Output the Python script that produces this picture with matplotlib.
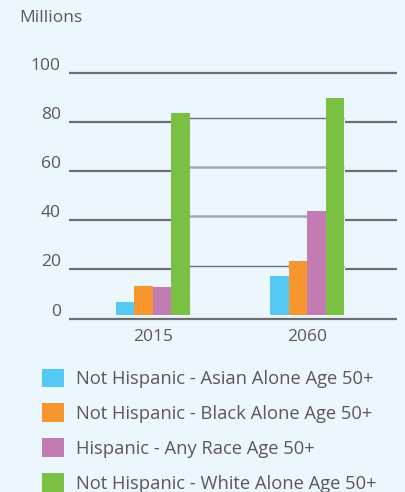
import matplotlib.pyplot as plt
from matplotlib.patches import Rectangle
import matplotlib.transforms as mtransforms
import numpy as np

# ---------------- data ----------------
years = ["2015", "2060"]
series = [
    "Not Hispanic - Asian Alone Age 50+",
    "Not Hispanic - Black Alone Age 50+",
    "Hispanic - Any Race Age 50+",
    "Not Hispanic - White Alone Age 50+",
]
asian = [5.2, 15.7]
black = [11.7, 21.8]
hispanic = [11.3, 42.2]
white = [82.0, 88.1]
yticks = [0, 20, 40, 60, 80, 100]

colors = ["#55c9f3", "#f7962f", "#c27bb3", "#7ac143"]
bg = "#ebf6fd"
grid_dark = "#6d6e71"
grid_light = "#a3a7ad"
txt = "#5e5757"

plt.rcParams["font.family"] = ["Open Sans", "DejaVu Sans"]

fig = plt.figure(figsize=(4.05, 4.92), dpi=100, facecolor=bg)
# axes placed so that y=0 lands at ~319px and y=100 at ~73px
ax = fig.add_axes([69 / 405, 0.3423, 328 / 405, 0.5199], facecolor=bg)
ax.set_ylim(-2, 102)
ax.set_xlim(-0.545, 1.584)

x = np.arange(len(years))
w = 0.12
offset = 1.6  # bars sit slightly above the outer baseline

# outer grid lines
ax.hlines(yticks, -0.545, 1.584, color=grid_dark, lw=1.6, zorder=1)

# inner panel hiding the outer lines between the groups
left = x[0] + 1.5 * w - w / 2
right = x[1] + 1.5 * w + w / 2
ax.add_patch(Rectangle((left - 0.005, 3), right - left + 0.01, 85,
                       facecolor=bg, edgecolor="none", zorder=2))
inner_cols = [grid_dark, grid_light, grid_light, grid_dark]
inner_lw = [1.0, 1.8, 1.8, 1.0]
for t, c, lw in zip(yticks[1:5], inner_cols, inner_lw):
    ax.hlines(t + offset, left, right, color=c, lw=lw, zorder=2.5)

handles = []
for j, vals in enumerate([asian, black, hispanic, white]):
    b = ax.bar(x + (j - 1.5) * w, vals, w, bottom=offset, color=colors[j],
               label=series[j], zorder=3)
    handles.append(b)

for s in ax.spines.values():
    s.set_visible(False)
ax.set_xticks(x)
ax.set_xticklabels(years)
ax.set_yticks(yticks)
ax.tick_params(length=0, labelsize=12.5, labelcolor=txt)
ax.tick_params(axis="x", pad=4)
ax.tick_params(axis="y", pad=6)
shift = mtransforms.ScaledTranslation(0, 9 / 100, fig.dpi_scale_trans)
for lab in ax.get_yticklabels():
    lab.set_transform(lab.get_transform() + shift)

fig.text(19 / 405, 1 - 18 / 492, "Millions", fontsize=12.5, color=txt,
         ha="left", va="center")

fig.legend(handles=handles, labels=series, loc="upper left",
           bbox_to_anchor=(42 / 405, 1 - 368.5 / 492), frameon=False,
           fontsize=13.2, labelcolor=txt, handlelength=1.2, handleheight=1.2,
           handletextpad=0.68, labelspacing=0.84, borderpad=0, borderaxespad=0)

fig.savefig("out.png", dpi=100, facecolor=bg)
